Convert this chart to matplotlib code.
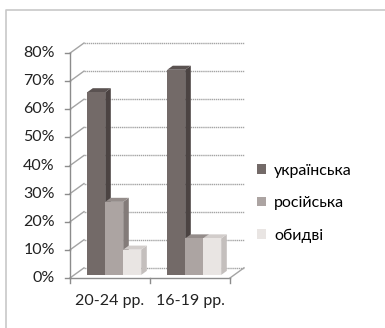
import matplotlib

matplotlib.use("Agg")
import matplotlib.pyplot as plt
from matplotlib.patches import Polygon, Patch
from matplotlib.lines import Line2D

plt.rcParams["font.family"] = ["Lato", "DejaVu Sans"]

categories = ["20-24 рр.", "16-19 рр."]
series = ["українська", "російська", "обидві"]
values = {
    "українська": [0.65, 0.73],
    "російська": [0.26, 0.13],
    "обидві": [0.09, 0.13],
}
yticks = [0.0, 0.1, 0.2, 0.3, 0.4, 0.5, 0.6, 0.7, 0.8]
ytick_labels = ["0%", "10%", "20%", "30%", "40%", "50%", "60%", "70%", "80%"]

# face colours: front, side, top
colors = {
    "українська": ("#736a68", "#4b4342", "#5a5251"),
    "російська": ("#aca4a2", "#837b79", "#948c8a"),
    "обидві": ("#e9e5e3", "#c4bfbd", "#d2cdcb"),
}

DX, DY = 0.175, 0.036      # depth offset of the back wall
D0, D1 = 0.3, 0.7          # depth span of the bars
BW = 0.225                 # bar width
GRID = "#a4a4a4"
AXIS = "#8c8c8c"
FS = 11.5

fig = plt.figure(figsize=(3.85, 3.28), dpi=100)
ax = fig.add_axes([0, 0, 1, 1])
ax.set_xlim(-0.875, 3.9375)
ax.set_ylim(-0.178, 0.989)
ax.axis("off")

# chart area frame (left and top edges)
fig.add_artist(Line2D([0.016, 0.016, 1.0], [0.0, 0.97, 0.97],
                      transform=fig.transFigure, color="#c8c8c8", lw=1.2))

ncat = len(categories)
# back wall gridlines + side wall diagonals
for v, lab in zip(yticks, ytick_labels):
    ax.plot([DX, ncat + DX], [v + DY, v + DY], color=GRID, lw=1, ls=(0, (1, 0.5)), zorder=1)
    ax.plot([0, DX], [v, v + DY], color=GRID, lw=1, zorder=1)
    ax.plot([-0.06, 0], [v, v], color=AXIS, lw=1, zorder=1)
    ax.text(-0.19, v, lab, ha="right", va="center", fontsize=FS, color="#222222")
ax.plot([0, 0], [0, yticks[-1]], color=AXIS, lw=1, zorder=1)
# floor
ax.plot([0, ncat], [0, 0], color=AXIS, lw=1, zorder=1)
ax.plot([ncat, ncat + DX], [0, DY], color=GRID, lw=1, zorder=1)
for i in range(ncat + 1):
    ax.plot([i, i], [0, -0.018], color=AXIS, lw=1, zorder=1)

# 3D-looking bars
z = 2
for i, cat in enumerate(categories):
    x0 = i + 0.5 - 1.5 * BW
    for j, name in enumerate(series):
        v = values[name][i]
        front, side, top = colors[name]
        xl = x0 + j * BW
        xr = xl + BW
        ax.add_patch(Polygon([(xr + D0 * DX, D0 * DY), (xr + D1 * DX, D1 * DY),
                              (xr + D1 * DX, v + D1 * DY), (xr + D0 * DX, v + D0 * DY)],
                             closed=True, fc=side, ec="none", zorder=z))
        ax.add_patch(Polygon([(xl + D0 * DX, v + D0 * DY), (xr + D0 * DX, v + D0 * DY),
                              (xr + D1 * DX, v + D1 * DY), (xl + D1 * DX, v + D1 * DY)],
                             closed=True, fc=top, ec="none", zorder=z))
        ax.add_patch(Polygon([(xl + D0 * DX, D0 * DY), (xr + D0 * DX, D0 * DY),
                              (xr + D0 * DX, v + D0 * DY), (xl + D0 * DX, v + D0 * DY)],
                             closed=True, fc=front, ec="none", zorder=z + 1))
        z += 2
    ax.text(i + 0.5, -0.082, cat, ha="center", va="center", fontsize=FS, color="#222222")

handles = [Patch(fc=colors[name][0], ec="none") for name in series]
fig.legend(handles, series, loc="center left", bbox_to_anchor=(0.648, 0.38),
           frameon=False, fontsize=FS, handlelength=0.55, handleheight=0.55,
           handletextpad=0.5, labelspacing=1.15, borderpad=0)

fig.savefig("out.png", dpi=100, facecolor="white")
